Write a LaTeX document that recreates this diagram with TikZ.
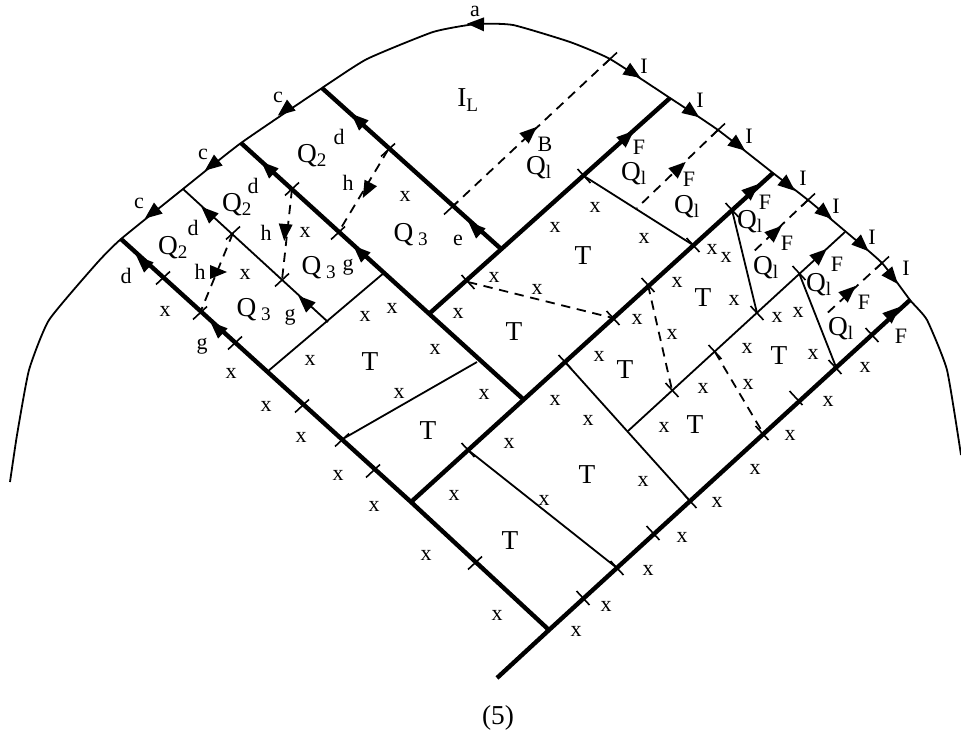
\documentclass[tikz,border=0pt]{standalone}
\usepackage{fontspec}
\setmainfont{Liberation Serif}
\newcommand{\Qone}{Q\textsubscript{l}}
\newcommand{\Qtwo}{Q\textsubscript{2}}
\newcommand{\Qthr}{Q\,\textsubscript{3}}
\begin{document}
\begin{tikzpicture}[x=0.75pt, y=-0.75pt, line join=round,
		heavy/.style={line width=3.3pt},
		slim/.style={line width=1.35pt},
		dashline/.style={line width=1.35pt, dash pattern=on 7pt off 5pt},
		ticka/.style={line width=1.2pt},
		small/.style={inner sep=0pt, font=\fontsize{16.5}{16.5}\selectfont},
		large/.style={inner sep=0pt, font=\fontsize{20.5}{20.5}\selectfont}]
	\useasboundingbox (0,0) rectangle (961,738);
	% 1. vertices
	\coordinate (foot) at (497,678);
	\coordinate (low) at (549,630);
	\coordinate (rtend) at (910,300);
	\coordinate (ltend) at (121,239);
	\coordinate (lmid) at (411,502);
	\coordinate (midend) at (241,143);
	\coordinate (midlow) at (523,399);
	\coordinate (uplow) at (500,248);
	\coordinate (upend) at (322,88);
	\coordinate (junc) at (430,313);
	\coordinate (nthr) at (670,98);
	\coordinate (ntwo) at (773,173);
	\coordinate (nfour) at (845,232);
	\coordinate (nlow) at (628,431);
	\coordinate (thinend) at (183,189);
	\coordinate (thinlow) at (328,322);
	\coordinate (tlow) at (267,372);
	\coordinate (ttop) at (385,272);
	\coordinate (ca) at (341,440);
	\coordinate (cb) at (477,362);
	\coordinate (da) at (468,450);
	\coordinate (db) at (617,568);
	\coordinate (ea) at (565,362);
	\coordinate (eb) at (690,501);
	\coordinate (fa) at (584,176);
	\coordinate (fb) at (693,245);
	\coordinate (ga) at (732,210);
	\coordinate (gb) at (757,313);
	\coordinate (ha) at (799,273);
	\coordinate (hb) at (836,367);
	% 2. outer curve
	\draw[slim] plot[smooth, tension=0.3] coordinates {(10,482) (17,435) (29,370) (49,320) (97,263) (121,239)
		(183,189) (241,143) (322,88) (367,59) (433,32) (476,24) (513,25) (570,42) (610,59)
		(670,98) (718,130) (773,173) (808,200) (845,231) (882,263) (910,300) (927,320) (947,370) (961,455)};
	% 3. heavy lines
	\draw[heavy] (foot) -- (low) -- (rtend);
	\draw[heavy] (low) -- (lmid) -- (ltend);
	\draw[heavy] (midlow) -- (midend);
	\draw[heavy] (lmid) -- (ntwo);
	\draw[heavy] (uplow) -- (upend);
	\draw[heavy] (junc) -- (nthr);
	% 4. thin lines
	\draw[slim] (nlow) -- (nfour);
	\draw[slim] (thinend) -- (thinlow);
	\draw[slim] (tlow) -- (ttop);
	\draw[slim] (ca) -- (cb);
	\draw[slim] (da) -- (db);
	\draw[slim] (ea) -- (eb);
	\draw[slim] (fa) -- (fb);
	\draw[slim] (ga) -- (gb);
	\draw[slim] (ha) -- (hb);
	% 5. dashed lines
	\coordinate (ia) at (388,150); \coordinate (ib) at (338,233);
	\coordinate (ja) at (292,189); \coordinate (jb) at (282,280);
	\coordinate (ka) at (233,233); \coordinate (kb) at (200,313);
	\coordinate (la) at (610,59); \coordinate (lb) at (451,208);
	\coordinate (ma) at (718,130); \coordinate (mb) at (637,208);
	\coordinate (na) at (808,200); \coordinate (nb) at (750,255);
	\coordinate (oa) at (882,263); \coordinate (ob) at (823,317);
	\coordinate (pa) at (468,282); \coordinate (pb) at (613,318);
	\coordinate (qa) at (648,285); \coordinate (qb) at (672,390);
	\coordinate (ra) at (715,352); \coordinate (rb) at (763,433);
	\foreach \a/\b in {ia/ib,ja/jb,ka/kb,la/lb,ma/mb,na/nb,oa/ob,pa/pb,qa/qb,ra/rb}
		\draw[dashline] (\a) -- (\b);
	% 6. tick marks
	\foreach \p in {(388,150),(451,208),(292,189),(338,233),(233,233),(282,280),
		(163,278),(200,313),(235,343),(302,406),(342,440),(373,471),(475,563),(610,59),(718,130),(808,200),(882,263)}
		\draw[ticka, shift={\p}] (-7,6.5) -- (7,-6.5);
	\foreach \p in {(468,282),(584,176),(468,450),(565,362),(613,318),(648,285),(693,245),(732,210),
		(672,390),(715,352),(757,313),(799,273),(583,598),(617,568),(653,533),(690,501),(762,433),
		(796,398),(835,367),(872,335)}
		\draw[ticka, shift={\p}] (-6.5,-7) -- (6.5,7);
	% 7. arrow heads
	\foreach \p/\r in {(476,24)/178, (285,110)/218,(212,165)/218,(152,213)/218,
		(633,73)/-33,(692,112)/-36,(738,145)/-38,(788,185)/-40,(825,213)/-40,(862,245)/-43,(892,277)/-50,
		(143,262)/137,(217,328)/137,(358,120)/137,(475,228)/137,(268,168)/137,(360,252)/137,(208,213)/137,(305,302)/137,
		(627,137)/42,(752,190)/42,(820,255)/42,(893,313)/42,
		(530,133)/42,(679,168)/42,(775,232)/42,(849,292)/42,
		(367,190)/-118,(285,232)/-95,(218,272)/0}
		\fill[shift={\p}, rotate=\r] (9,0) -- (-8,-7) -- (-8,7) -- cycle;
	% 8. labels
	\foreach \p [count=\i] in {(405,196),(305,232),(245,274),(165,311),(595,207),(555,227),(644,238),
		(712,249),(726,257),(677,282),(734,300),(777,317),(798,312),(637,319),(672,334),(747,348),(813,354),
		(865,367),(599,356),(494,277),(537,289),(365,316),(392,308),(458,313),(435,349),(310,360),(231,373),
		(266,406),(301,437),(338,475),(374,506),(399,393),(484,394),(555,400),(588,420),(509,443),(643,481),
		(544,500),(454,495),(426,555),(497,615),(576,631),(606,606),(648,570),(682,537),(717,502),(664,427),
		(703,388),(748,384),(755,469),(790,435),(828,401)}
		\node[small] (x\i) at \p {x};
	\foreach \p [count=\i] in {(278,97),(203,154),(139,203)} \node[small] (c\i) at \p {c};
	\foreach \p [count=\i] in {(339,137),(253,186),(193,228),(126,276)} \node[small] (d\i) at \p {d};
	\foreach \p [count=\i] in {(348,183),(266,233),(200,272)} \node[small] (h\i) at \p {h};
	\foreach \p [count=\i] in {(348,267),(290,317),(202,346)} \node[small] (g\i) at \p {g};
	\foreach \p [count=\i] in {(644,66),(700,100),(749,136),(803,178),(836,206),(872,237),(906,268)}
		\node[small] (I\i) at \p {I};
	\foreach \p [count=\i] in {(639,147),(689,179),(765,202),(787,243),(837,264),(864,302),(901,336)}
		\node[small] (F\i) at \p {F};
	\foreach \p [count=\i] in {(312,156),(237,205),(173,248)} \node[large] (Qb\i) at \p {\Qtwo};
	\foreach \p [count=\i] in {(411,235),(319,268),(254,310)} \node[large] (Qc\i) at \p {\Qthr};
	\foreach \p [count=\i] in {(539,168),(634,174),(687,207),(750,222),(766,268),(819,285),(841,329)}
		\node[large] (Qa\i) at \p {\Qone};
	\foreach \p [count=\i] in {(583,256),(703,298),(514,332),(625,370),(779,356),(370,362),(428,431),
		(587,475),(695,425),(510,541)}
		\node[large] (T\i) at \p {T};
	\node[small] (alab) at (475,11) {a};
	\node[small] (elab) at (458,240) {e};
	\node[small] (blab) at (545,144) {B};
	\node[large] (IL) at (468,100) {I\textsubscript{L}};
	\node[large] (cap) at (498,718) {(5)};
\end{tikzpicture}
\end{document}
